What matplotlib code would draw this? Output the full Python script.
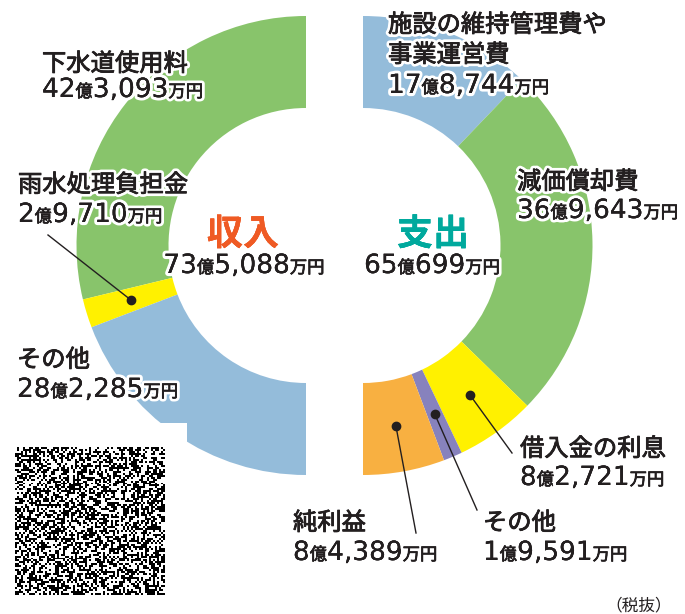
import numpy as np
import matplotlib
matplotlib.use('Agg')
import matplotlib.pyplot as plt
from matplotlib.patches import Wedge, Rectangle
import matplotlib.patheffects as pe

plt.rcParams['font.family'] = ['Noto Sans CJK JP', 'DejaVu Sans']

# data (万円)
income_labels = ['下水道使用料', '雨水処理負担金', 'その他']
income_values = [423093, 29710, 282285]
income_colors = ['#88c46b', '#fff100', '#94bcda']

expense_labels = ['施設の維持管理費や\n事業運営費', '減価償却費', '借入金の利息', 'その他', '純利益']
expense_values = [178744, 369643, 82721, 19591, 84389]
expense_colors = ['#94bcda', '#88c46b', '#fff100', '#8782bd', '#f8b041']

total_income = 735088
total_expense = 650699

W, H = 685, 614
fig = plt.figure(figsize=(W / 100, H / 100), dpi=100)
ax = fig.add_axes([0, 0, 1, 1])
ax.set_xlim(0, W)
ax.set_ylim(0, H)
ax.axis('off')
renderer = fig.canvas.get_renderer()

TXT = '#231f20'


def Y(y):
    return H - y

r_out, r_in = 229.5, 137.5
r_mid = (r_out + r_in) / 2
cl = (306, Y(245.5))
cr = (363, Y(245.5))

# left half: counterclockwise from top
tot = sum(income_values)
a = 90
income_mid = []
for v, c in zip(income_values, income_colors):
    span = v / tot * 180
    ax.add_patch(Wedge(cl, r_out, a, a + span, width=r_out - r_in, color=c, lw=0))
    income_mid.append(a + span / 2)
    a += span

# right half: clockwise from top
tot = sum(expense_values)
a = 90
expense_mid = []
for v, c in zip(expense_values, expense_colors):
    span = v / tot * 180
    ax.add_patch(Wedge(cr, r_out, a - span, a, width=r_out - r_in, color=c, lw=0))
    expense_mid.append(a - span / 2)
    a -= span

# white notch + code block (decoration)
ax.add_patch(Rectangle((0, 0), 187, Y(423), color='white', lw=0, zorder=2))
n = 75
ii, jj = np.mgrid[0:n, 0:n].astype(np.int64)
h = (ii * 73856093) ^ (jj * 19349663) ^ (ii * jj * 83492791)
h = (h ^ (h >> 13)) * 1274126177
code = ((h >> 16) & 1).astype(bool)
ax.imshow(code, cmap='gray_r', extent=[15, 165, Y(595), Y(447)], interpolation='nearest',
          zorder=3, aspect='auto')


def fmt(v, big=19, small=12.5):
    oku, man = divmod(v, 10000)
    return [(str(oku), big, 'DejaVu Sans', 0.0), ('億', small, 'Noto Sans CJK JP', 0.5),
            (f'{man:,}', big, 'DejaVu Sans', 0.0), ('万円', small, 'Noto Sans CJK JP', 0.5)]


def rich(x, y, parts, ha='left', color=TXT, weight='normal'):
    items = []
    for s, size, fam, thick in parts:
        effects = [pe.withStroke(linewidth=4.5, foreground='white'),
                   pe.Stroke(linewidth=thick, foreground=color), pe.Normal()]
        t = ax.text(0, Y(y), s, fontsize=size, family=[fam, 'Noto Sans CJK JP'], color=color,
                    va='baseline', ha='left', fontweight=weight, path_effects=effects, zorder=6)
        items.append((t, t.get_window_extent(renderer=renderer).width))
    total = sum(w for _, w in items)
    x0 = x if ha == 'left' else x - total / 2
    for t, w in items:
        t.set_x(x0)
        x0 += w


def label(x, y1, y2, name, value):
    for k, line in enumerate(name.split('\n')):
        rich(x, y1 + k * 30, [(line, 17.5, 'Noto Sans CJK JP', 0.6)])
    rich(x, y2, fmt(value))


def leader(center, ang, end):
    px = center[0] + r_mid * np.cos(np.radians(ang))
    py = center[1] + r_mid * np.sin(np.radians(ang))
    ax.plot([px, end[0]], [py, Y(end[1])], color=TXT, lw=1, zorder=4)
    ax.plot(px, py, 'o', color=TXT, ms=6, zorder=5)


# income labels
label(42, 71, 97, income_labels[0], income_values[0])
label(18, 192, 222, income_labels[1], income_values[1])
label(17, 367, 397, income_labels[2], income_values[2])
leader(cl, income_mid[1], (48, 235))

# expense labels
label(388, 32, 93, expense_labels[0], expense_values[0])
label(517, 189, 218, expense_labels[1], expense_values[1])
label(520, 456, 485, expense_labels[2], expense_values[2])
label(483, 530, 560, expense_labels[3], expense_values[3])
label(293, 530, 560, expense_labels[4], expense_values[4])
leader(cr, expense_mid[2], (512, 453))
leader(cr, expense_mid[3], (477, 510))
leader(cr, expense_mid[4], (416, 533))

# centre titles
rich(243, 245, [('収入', 26, 'Noto Sans CJK JP', 0)], ha='center', color='#ef5a24', weight='bold')
rich(244, 273, fmt(total_income), ha='center')
rich(433, 245, [('支出', 26, 'Noto Sans CJK JP', 0)], ha='center', color='#00a99d', weight='bold')
rich(432, 273, fmt(total_expense), ha='center')

ax.text(672, Y(610), '（税抜）', fontsize=12, ha='right', va='baseline', color=TXT)

fig.savefig('out.png', dpi=100)
